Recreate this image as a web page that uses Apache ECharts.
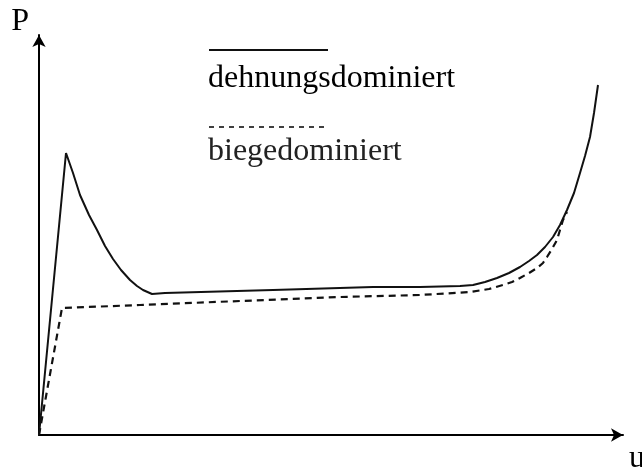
<!DOCTYPE html>
<html>
<head>
<meta charset="utf-8">
<script src="https://cdn.jsdelivr.net/npm/echarts@6/dist/echarts.min.js"></script>
<style>
  html, body { margin: 0; padding: 0; background: #fff; }
  #chart { width: 642px; height: 468px; }
</style>
</head>
<body>
<div id="chart"></div>
<script>
// values, arbitrary units (u, P)
var seriesNames = ['dehnungsdominiert', 'biegedominiert'];
var axisNames = ['u', 'P'];

var dehnung = [
  [0, 0], [27, 282], [34, 262], [41, 240], [50, 220], [58, 205], [66, 189],
  [74, 176], [82, 165], [91, 155], [98, 149], [104, 145], [113, 141],
  [126, 142], [234, 145], [334, 148], [381, 148], [421, 149], [434, 150],
  [446, 153], [458, 157], [470, 162], [481, 168], [490, 174], [498, 180],
  [506, 188], [514, 198], [521, 210], [528, 225], [535, 242], [541, 262],
  [546, 279], [551, 298], [555, 322], [559, 350]
];

var biege = [
  [0, 0], [23, 127], [101, 130], [201, 134], [301, 138], [381, 140],
  [431, 143], [450, 146], [464, 150], [473, 153], [481, 157], [490, 162],
  [498, 167], [504, 172], [508, 178], [513, 186], [518, 195], [521, 205],
  [524, 215], [528, 223]
];

var serif = '"Liberation Serif", "DejaVu Serif", serif';

var chart = echarts.init(document.getElementById('chart'));

var option = {
  animation: false,
  backgroundColor: '#fff',
  grid: {
    left: 39, right: 19, top: 35, bottom: 33,
    containLabel: false,
    outerBoundsMode: 'none'
  },
  xAxis: {
    type: 'value',
    min: 0,
    max: 584,
    name: axisNames[0],
    nameLocation: 'end',
    nameGap: 6,
    nameTextStyle: {
      fontFamily: serif, fontSize: 32, color: '#000',
      align: 'left', verticalAlign: 'top', padding: [8, 0, 0, 0]
    },
    axisLine: {
      symbol: ['none', 'arrow'],
      symbolSize: [10, 12],
      lineStyle: { color: '#000', width: 2 }
    },
    axisTick: { show: false },
    axisLabel: { show: false },
    splitLine: { show: false }
  },
  yAxis: {
    type: 'value',
    min: 0,
    max: 400,
    name: axisNames[1],
    nameLocation: 'end',
    nameGap: -3,
    nameTextStyle: {
      fontFamily: serif, fontSize: 32, color: '#000',
      align: 'right', verticalAlign: 'bottom', padding: [0, 10, 0, 0]
    },
    axisLine: {
      symbol: ['none', 'arrow'],
      symbolSize: [10, 12],
      lineStyle: { color: '#000', width: 2 }
    },
    axisTick: { show: false },
    axisLabel: { show: false },
    splitLine: { show: false }
  },
  series: [
    {
      name: seriesNames[0],
      type: 'line',
      data: dehnung,
      showSymbol: false,
      smooth: false,
      lineStyle: { color: '#111', width: 2 }
    },
    {
      name: seriesNames[1],
      type: 'line',
      data: biege,
      showSymbol: false,
      smooth: false,
      lineStyle: { color: '#111', width: 2.2, type: [7, 5] }
    }
  ],
  // legend drawn by hand: line sample above its label
  graphic: [
    {
      type: 'line',
      shape: { x1: 209, y1: 50, x2: 328, y2: 50 },
      style: { stroke: '#111', lineWidth: 1.8 }
    },
    {
      type: 'text',
      x: 208, y: 79,
      style: {
        text: seriesNames[0], font: '32px ' + serif, fill: '#000',
        verticalAlign: 'middle'
      }
    },
    {
      type: 'line',
      shape: { x1: 209, y1: 127, x2: 328, y2: 127 },
      style: { stroke: '#111', lineWidth: 1.6, lineDash: [5, 5] }
    },
    {
      type: 'text',
      x: 208, y: 152,
      style: {
        text: seriesNames[1], font: '32px ' + serif, fill: '#222',
        verticalAlign: 'middle'
      }
    }
  ]
};

chart.setOption(option);

window.addEventListener('resize', function () {
  chart.resize();
});
</script>
</body>
</html>
